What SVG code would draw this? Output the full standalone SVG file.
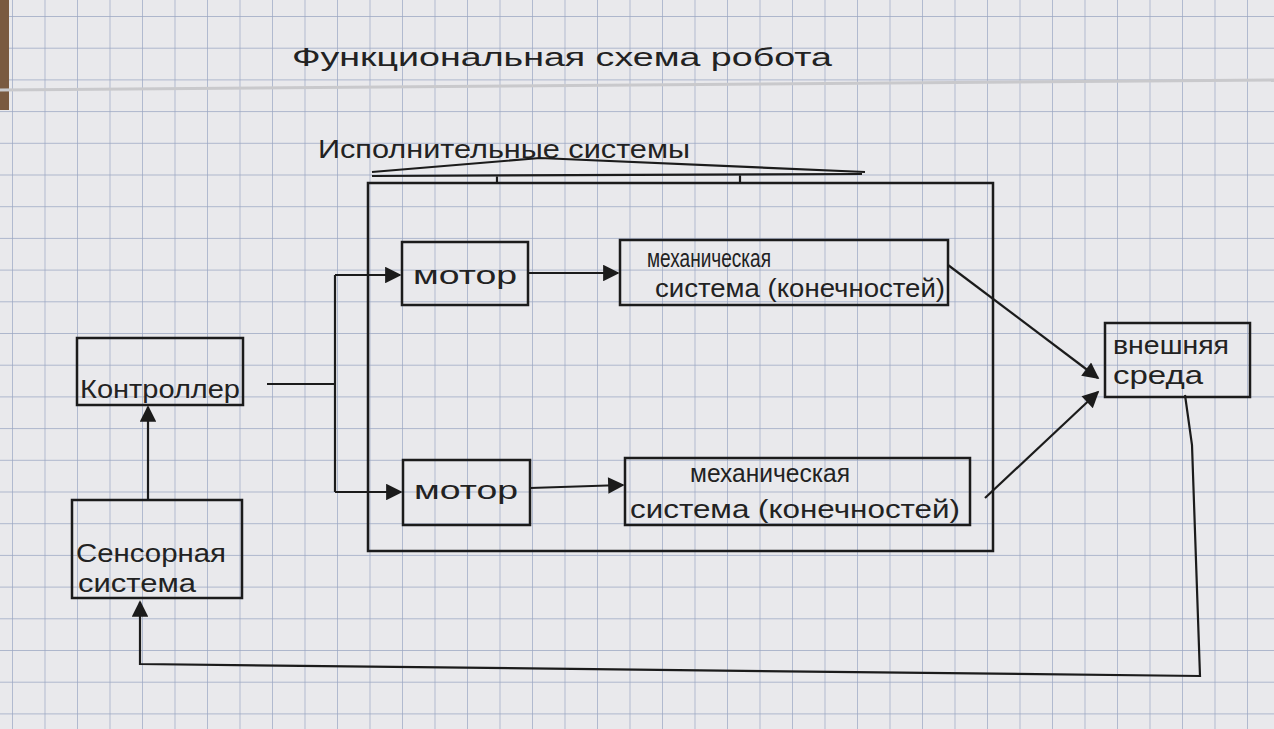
<svg xmlns="http://www.w3.org/2000/svg" width="1274" height="729" viewBox="0 0 1274 729">
  <defs>
    <pattern id="grid" patternUnits="userSpaceOnUse" x="12" y="16" width="32.5" height="31.7">
      <path d="M0 0H32.5M0 0V31.7" fill="none" stroke="#9aa6c2" stroke-width="1.4"/>
    </pattern>
    <marker id="arr" viewBox="0 0 10 10" refX="9" refY="5" markerWidth="9" markerHeight="7.5" markerUnits="strokeWidth" orient="auto">
      <path d="M0 0L10 5L0 10Z" fill="#1b1b1b"/>
    </marker>
    <style>
      .box{fill:none;stroke:#1b1b1b;stroke-width:2.5}
      .ln{fill:none;stroke:#1b1b1b;stroke-width:2.2}
      .t{font-family:"Liberation Sans","DejaVu Sans",sans-serif;fill:#222;font-size:26px}
    </style>
  </defs>
  <rect width="1274" height="729" fill="#e9e9ec"/>
  <rect width="1274" height="729" fill="url(#grid)"/>
  <rect x="0" y="0" width="9" height="110" fill="#7a5a40"/>
  <path d="M0 90 L1274 80" stroke="#c9c9cc" stroke-width="3"/>

  <g id="title">
    <text class="t" x="292" y="66" font-size="38" textLength="540" lengthAdjust="spacingAndGlyphs">Функциональная схема робота</text>
  </g>

  <g id="executive-systems">
    <text class="t" x="318" y="158" font-size="30" textLength="372" lengthAdjust="spacingAndGlyphs">Исполнительные системы</text>
    <path class="ln" d="M372 172 L540 158 L865 172 M372 176 L862 174 M497 175 V184 M740 175 V184"/>
    <rect class="box" x="368" y="183" width="625" height="368"/>
  </g>

  <g id="motor1">
    <rect class="box" x="402" y="242" width="126" height="63"/>
    <text class="t" x="465" y="284" font-size="30" text-anchor="middle" textLength="104" lengthAdjust="spacingAndGlyphs">мотор</text>
  </g>
  <g id="mech1">
    <rect class="box" x="620" y="240" width="328" height="65"/>
    <text class="t" x="647" y="267" font-size="24" textLength="124" lengthAdjust="spacingAndGlyphs">механическая</text>
    <text class="t" x="655" y="297" font-size="26" textLength="290" lengthAdjust="spacingAndGlyphs">система (конечностей)</text>
  </g>
  <g id="motor2">
    <rect class="box" x="403" y="460" width="127" height="65"/>
    <text class="t" x="466" y="499" font-size="30" text-anchor="middle" textLength="104" lengthAdjust="spacingAndGlyphs">мотор</text>
  </g>
  <g id="mech2">
    <rect class="box" x="625" y="458" width="345" height="67"/>
    <text class="t" x="690" y="482" font-size="26" textLength="160" lengthAdjust="spacingAndGlyphs">механическая</text>
    <text class="t" x="630" y="518" font-size="28" textLength="330" lengthAdjust="spacingAndGlyphs">система (конечностей)</text>
  </g>
  <g id="controller">
    <rect class="box" x="77" y="338" width="166" height="67"/>
    <text class="t" x="80" y="398" font-size="32" textLength="160" lengthAdjust="spacingAndGlyphs">Контроллер</text>
  </g>
  <g id="sensor">
    <rect class="box" x="72" y="500" width="170" height="98"/>
    <text class="t" x="76" y="562" font-size="32" textLength="150" lengthAdjust="spacingAndGlyphs">Сенсорная</text>
    <text class="t" x="78" y="592" font-size="28" textLength="118" lengthAdjust="spacingAndGlyphs">система</text>
  </g>
  <g id="environment">
    <rect class="box" x="1105" y="323" width="145" height="74"/>
    <text class="t" x="1113" y="354" font-size="26" textLength="116" lengthAdjust="spacingAndGlyphs">внешняя</text>
    <text class="t" x="1113" y="384" font-size="26" textLength="90" lengthAdjust="spacingAndGlyphs">среда</text>
  </g>

  <g id="connectors">
    <path class="ln" d="M267 384 H335 M335 275 V492"/>
    <path class="ln" d="M335 275 H400" marker-end="url(#arr)"/>
    <path class="ln" d="M335 492 H401" marker-end="url(#arr)"/>
    <path class="ln" d="M528 273 H618" marker-end="url(#arr)"/>
    <path class="ln" d="M530 488 L623 485" marker-end="url(#arr)"/>
    <path class="ln" d="M948 265 L1098 378" marker-end="url(#arr)"/>
    <path class="ln" d="M985 498 L1098 392" marker-end="url(#arr)"/>
    <path class="ln" d="M1185 395 L1192 445 L1200 676 L140 664 L140 602" marker-end="url(#arr)"/>
    <path class="ln" d="M148 500 V407" marker-end="url(#arr)"/>
  </g>
</svg>
